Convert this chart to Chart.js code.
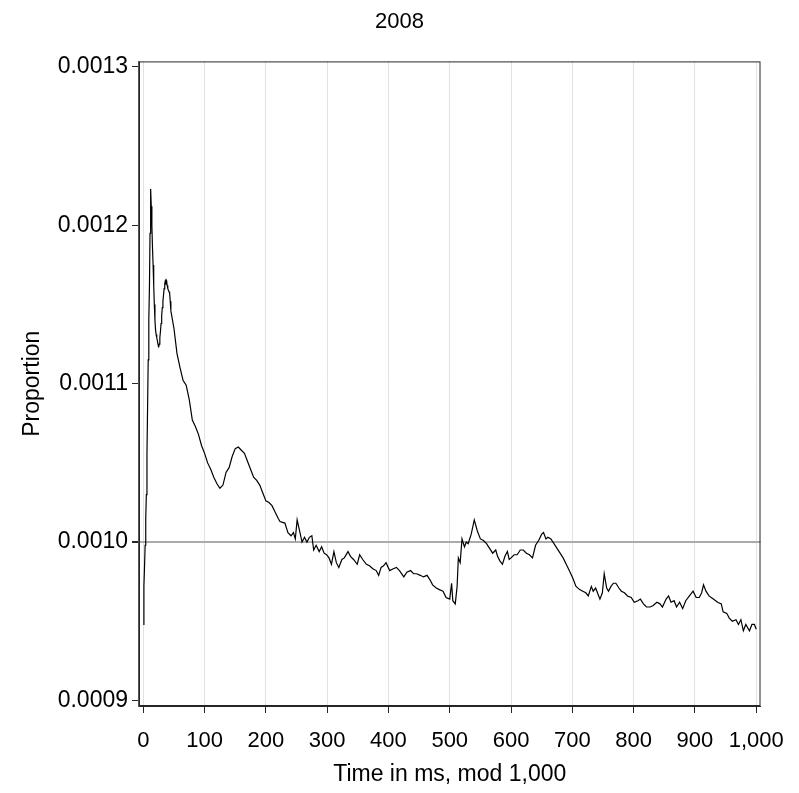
<!DOCTYPE html>
<html>
<head>
<meta charset="utf-8">
<title>2008</title>
<script src="https://cdn.jsdelivr.net/npm/chart.js@4.4.1/dist/chart.umd.min.js"></script>
<style>
    html, body { margin: 0; padding: 0; background: #ffffff; }
    #chart { display: block; }
</style>
</head>
<body>
<canvas id="chart" width="799" height="793"></canvas>
<script>
// Readings taken off the 2008 curve (time in ms, proportion)
const timeMs = [
    0, 1, 2, 3, 4, 5, 6, 7, 8, 9, 10, 11, 12, 13, 14, 15,
    16, 17, 18, 19, 20, 21, 22, 23, 24, 25, 26, 27, 28, 29, 30, 31,
    32, 33, 34, 35, 36, 37, 38, 39, 40, 41, 42, 43, 44, 45,
    50, 55, 60, 65, 70, 75, 80, 85, 90, 95, 100, 105, 110, 115, 120, 125,
    130, 135, 140, 145, 150, 155, 160, 165, 170, 175, 180, 185, 190, 195, 200, 205,
    210, 215, 220, 223, 231, 236, 241, 245, 248, 251, 255, 259, 263, 267, 271, 275,
    278, 282, 287, 291, 295, 299, 303, 307, 311, 315, 319, 324, 328, 334, 338, 343,
    349, 353, 358, 364, 369, 375, 380, 384, 388, 392, 396, 402, 407, 413, 418, 425,
    430, 436, 441, 446, 452, 457, 463, 468, 472, 478, 483, 489, 494, 500, 503, 505,
    509, 512, 514, 517, 520, 524, 527, 530, 535, 540, 545, 550, 555, 560, 565, 570,
    575, 578, 582, 586, 590, 594, 597, 600, 605, 610, 615, 620, 625, 630, 635, 640,
    645, 650, 653, 657, 660, 665, 670, 675, 680, 685, 690, 695, 701, 706, 712, 717,
    722, 726, 731, 734, 738, 741, 745, 749, 752, 756, 759, 763, 767, 771, 776, 780,
    785, 790, 796, 801, 807, 811, 816, 821, 827, 832, 838, 843, 847, 853, 857, 861,
    866, 870, 875, 880, 885, 891, 897, 902, 907, 911, 914, 918, 923, 930, 937, 943,
    946, 952, 956, 961, 967, 971, 975, 979, 983, 989, 993, 997, 1000
];

const proportion = [
    0.000948, 0.000972, 0.000984, 0.000998, 0.001015, 0.001030, 0.001055, 0.001085,
    0.001115, 0.001140, 0.001160, 0.001195, 0.001223, 0.001212, 0.001200, 0.001186,
    0.001175, 0.001162, 0.001150, 0.001140, 0.001134, 0.001131, 0.001129, 0.001127,
    0.001125, 0.001123, 0.001125, 0.001129, 0.001133, 0.001138, 0.001143, 0.001148,
    0.001152, 0.001156, 0.001160, 0.001163, 0.001165, 0.001164, 0.001165, 0.001162,
    0.001160, 0.001159, 0.001158, 0.001157, 0.001152, 0.001146,
    0.001135, 0.001119, 0.001110, 0.001102, 0.001099, 0.001090, 0.001077, 0.001073,
    0.001068, 0.001061, 0.001056, 0.001050, 0.001046, 0.001041, 0.001037, 0.001034,
    0.001036, 0.001044, 0.001047, 0.001054, 0.001059, 0.001060, 0.001058, 0.001056,
    0.001051, 0.001046, 0.001041, 0.001039, 0.001036, 0.001031, 0.001026, 0.001025,
    0.001023, 0.001019, 0.001015, 0.001013, 0.001012, 0.001006, 0.001004, 0.001006,
    0.001002, 0.001014, 0.001007, 0.001000, 0.001003, 0.001000, 0.001003, 0.001004,
    0.000995, 0.000998, 0.000994, 0.000997, 0.000993, 0.000992, 0.000990, 0.000986,
    0.000994, 0.000987, 0.000984, 0.000989, 0.000990, 0.000994, 0.000991, 0.000989,
    0.000986, 0.000992, 0.000989, 0.000986, 0.000985, 0.000983, 0.000982, 0.000979,
    0.000984, 0.000985, 0.000987, 0.000982, 0.000983, 0.000984, 0.000982, 0.000978,
    0.000981, 0.000982, 0.000980, 0.000980, 0.000979, 0.000978, 0.000979, 0.000976,
    0.000973, 0.000971, 0.000970, 0.000969, 0.000965, 0.000964, 0.000974, 0.000963,
    0.000961, 0.000972, 0.000990, 0.000987, 0.001002, 0.000997, 0.001000, 0.000999,
    0.001005, 0.001014, 0.001007, 0.001002, 0.001001, 0.000999, 0.000996, 0.000993,
    0.000995, 0.000991, 0.000988, 0.000986, 0.000991, 0.000994, 0.000989, 0.000990,
    0.000992, 0.000992, 0.000995, 0.000995, 0.000993, 0.000992, 0.000990, 0.000998,
    0.001001, 0.001005, 0.001006, 0.001002, 0.001003, 0.001002, 0.000999, 0.000996,
    0.000993, 0.000990, 0.000986, 0.000982, 0.000977, 0.000972, 0.000970, 0.000969,
    0.000968, 0.000966, 0.000972, 0.000969, 0.000971, 0.000968, 0.000964, 0.000968,
    0.000980, 0.000971, 0.000969, 0.000972, 0.000974, 0.000974, 0.000971, 0.000969,
    0.000968, 0.000966, 0.000965, 0.000962, 0.000963, 0.000964, 0.000961, 0.000959,
    0.000959, 0.000960, 0.000962, 0.000961, 0.000959, 0.000964, 0.000966, 0.000962,
    0.000963, 0.000959, 0.000962, 0.000958, 0.000963, 0.000966, 0.000969, 0.000965,
    0.000965, 0.000968, 0.000973, 0.000969, 0.000966, 0.000964, 0.000962, 0.000961,
    0.000956, 0.000955, 0.000952, 0.000950, 0.000951, 0.000948, 0.000951, 0.000944,
    0.000948, 0.000944, 0.000948, 0.000948, 0.000945
];

const xTickValues = [0, 100, 200, 300, 400, 500, 600, 700, 800, 900, 1000];
const xTickLabels = ['0', '100', '200', '300', '400', '500', '600', '700', '800', '900', '1,000'];
const yTickValues = [0.0009, 0.0010, 0.0011, 0.0012, 0.0013];
const yTickLabels = ['0.0009', '0.0010', '0.0011', '0.0012', '0.0013'];
const referenceValue = 0.0010;

const fontFamily = '"Liberation Sans", Arial, Helvetica, sans-serif';
const frameColor = '#262626';

const points = timeMs.map((t, i) => ({ x: t, y: proportion[i] }));

// box round the plot area (top and right sides have no axis)
const framePlugin = {
    id: 'frame',
    afterDatasetsDraw(chart) {
        const { ctx, chartArea } = chart;
        ctx.save();
        ctx.strokeStyle = frameColor;
        ctx.lineWidth = 1;
        ctx.strokeRect(chartArea.left + 0.5, chartArea.top + 0.5,
                       chartArea.right - chartArea.left - 1, chartArea.bottom - chartArea.top - 1);
        ctx.restore();
    }
};

new Chart(document.getElementById('chart'), {
    type: 'line',
    data: {
        datasets: [{
            label: '2008',
            data: points,
            borderColor: '#000000',
            borderWidth: 1.2,
            pointRadius: 0,
            tension: 0,
            fill: false
        }]
    },
    options: {
        responsive: false,
        animation: false,
        layout: { padding: 0 },
        plugins: {
            legend: { display: false },
            tooltip: { enabled: false },
            title: {
                display: true,
                text: '2008',
                color: '#000000',
                font: { family: fontFamily, size: 22, weight: 'normal' },
                padding: { top: 9, bottom: 26 }
            }
        },
        scales: {
            x: {
                type: 'linear',
                min: -7,
                max: 1007,
                afterFit(scale) { scale.height = 87; },
                afterBuildTicks(scale) { scale.ticks = xTickValues.map(v => ({ value: v })); },
                ticks: {
                    autoSkip: false,
                    maxRotation: 0,
                    color: '#000000',
                    padding: 15,
                    font: { family: fontFamily, size: 22 },
                    callback: (value, index) => xTickLabels[index]
                },
                grid: {
                    color: '#e2e2e2',
                    lineWidth: 1,
                    tickColor: frameColor,
                    tickLength: 7,
                    drawTicks: true
                },
                border: { display: true, color: frameColor, width: 1 },
                title: {
                    display: true,
                    text: 'Time in ms, mod 1,000',
                    color: '#000000',
                    font: { family: fontFamily, size: 23 },
                    padding: { top: 0, bottom: 5 }
                }
            },
            y: {
                type: 'linear',
                min: 0.0008965,
                max: 0.0013035,
                afterFit(scale) { scale.width = 139; },
                afterBuildTicks(scale) { scale.ticks = yTickValues.map(v => ({ value: v })); },
                ticks: {
                    autoSkip: false,
                    color: '#000000',
                    padding: 4,
                    font: { family: fontFamily, size: 23 },
                    callback: (value, index) => yTickLabels[index]
                },
                grid: {
                    color: (c) => (c.tick && c.tick.value === referenceValue) ? '#ababab' : 'rgba(0,0,0,0)',
                    lineWidth: (c) => (c.tick && c.tick.value === referenceValue) ? 2 : 1,
                    tickColor: frameColor,
                    tickLength: 7,
                    drawTicks: true
                },
                border: { display: true, color: '#555555', width: 1.5 },
                title: {
                    display: true,
                    text: 'Proportion',
                    color: '#000000',
                    font: { family: fontFamily, size: 23 },
                    padding: { top: 19, bottom: 0 }
                }
            },
            // empty right-hand strip so the plot ends where the reference does
            yRight: {
                type: 'linear',
                position: 'right',
                afterFit(scale) { scale.width = 37; },
                ticks: { display: false },
                grid: { display: false, drawTicks: false },
                border: { display: false },
                title: { display: false }
            }
        }
    },
    plugins: [framePlugin]
});
</script>
</body>
</html>
